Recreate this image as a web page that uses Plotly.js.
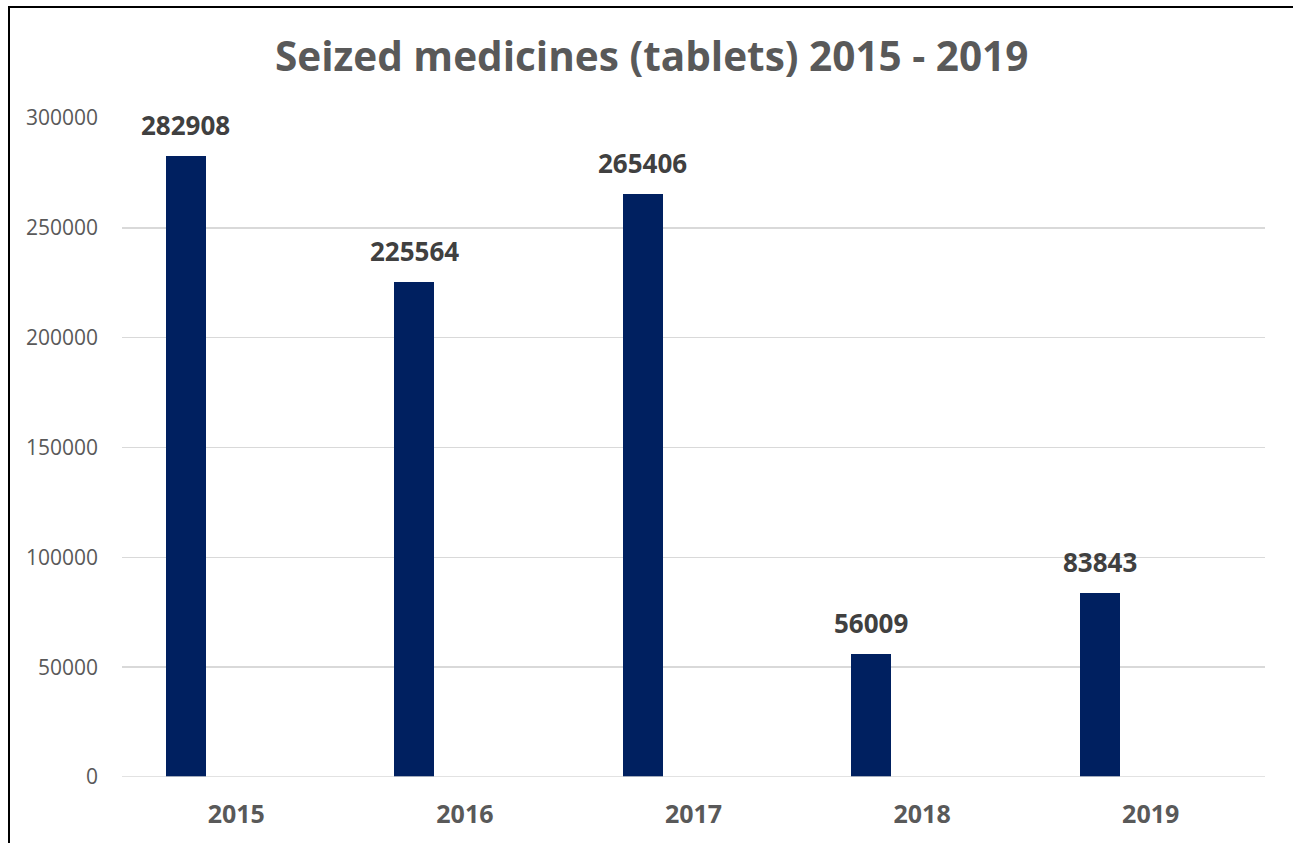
<!DOCTYPE html>
<html>
<head>
<meta charset="utf-8">
<script src="https://cdn.plot.ly/plotly-3.0.1.min.js"></script>
<style>
  html, body { margin: 0; padding: 0; background: #fff; overflow: hidden; }
  #plot { width: 1293px; height: 843px; }
  #frame { position: absolute; left: 8px; top: 6px; width: 1400px; height: 900px;
           border-left: 2px solid #000; border-top: 2px solid #000; pointer-events: none; }
</style>
</head>
<body>
<div id="plot"></div>
<div id="frame"></div>
<script>
var years = ["2015", "2016", "2017", "2018", "2019"];
var tablets = [282908, 225564, 265406, 56009, 83843];

var barWidth = 0.175;
var barOffset = -0.309;

var seized = {
  x: years,
  y: tablets,
  type: "bar",
  width: barWidth,
  offset: barOffset,
  marker: { color: "#002060" },
  hoverinfo: "x+y"
};

// data labels sit above each bar, centred on the (shifted) bar
var labels = tablets.map(function (v, i) {
  return {
    x: i + barOffset + barWidth / 2,
    y: v,
    xref: "x",
    yref: "y",
    text: String(v),
    showarrow: false,
    yanchor: "bottom",
    yshift: 11,
    font: { family: "Open Sans", size: 26, color: "#404040", weight: "bold" }
  };
});

var layout = {
  width: 1293,
  height: 843,
  margin: { l: 122, r: 28, t: 117.5, b: 66.3 },
  paper_bgcolor: "#fff",
  plot_bgcolor: "#fff",
  showlegend: false,
  bargap: 0,
  title: {
    text: "<b>Seized medicines (tablets) 2015 - 2019</b>",
    font: { family: "Open Sans", size: 40.5, color: "#595959" },
    x: 0.504,
    xanchor: "center",
    y: 0.932,
    yanchor: "middle"
  },
  xaxis: {
    type: "category",
    range: [-0.5, 4.5],
    showgrid: false,
    zeroline: false,
    showline: false,
    ticks: "",
    ticklabelstandoff: 20,
    tickfont: { family: "Open Sans", size: 25, color: "#595959", weight: "bold" }
  },
  yaxis: {
    range: [0, 300000],
    dtick: 50000,
    tickformat: "d",
    showgrid: true,
    gridcolor: "#d9d9d9",
    gridwidth: 1.5,
    zeroline: false,
    showline: false,
    ticks: "",
    ticklabelstandoff: 23,
    tickfont: { family: "Open Sans", size: 21, color: "#595959" }
  },
  shapes: [{
    type: "line",
    xref: "paper",
    yref: "y",
    x0: 0, x1: 1,
    y0: 0, y1: 0,
    line: { color: "#d9d9d9", width: 1.5 }
  }],
  annotations: labels
};

Plotly.newPlot("plot", [seized], layout, { displayModeBar: false, staticPlot: true });
</script>
</body>
</html>
